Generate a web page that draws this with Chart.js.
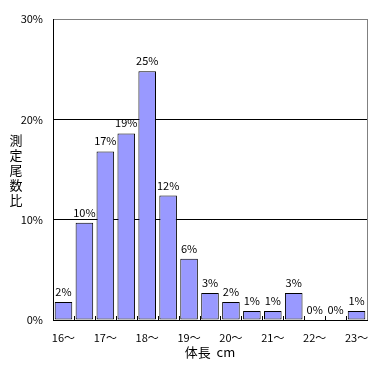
<!DOCTYPE html>
<html>
<head>
<meta charset="utf-8">
<script src="https://cdn.jsdelivr.net/npm/chart.js@4"></script>
<style>
    body { margin: 0; background: #fff; }
    #wrap { width: 372px; height: 365px; }
</style>
</head>
<body>
<div id="wrap"><canvas id="lengthChart" width="372" height="365"></canvas></div>
<script>
// 体長階級 (0.5cm刻み)
const CATEGORIES = [
    '16～', '16.5～', '17～', '17.5～', '18～', '18.5～', '19～', '19.5～',
    '20～', '20.5～', '21～', '21.5～', '22～', '22.5～', '23～'
];

// 測定尾数比 (%)
const RATIOS = [1.8, 9.7, 16.8, 18.6, 24.8, 12.4, 6.1, 2.7, 1.8, 0.9, 0.9, 2.7, 0, 0, 0.9];

// Y軸目盛
const Y_TICKS = [0, 10, 20, 30];

const Y_TITLE = '測定尾数比';
const X_TITLE = '体長  cm';

const FONT = '"Noto Sans CJK JP", "Noto Sans", sans-serif';

// 枠線・目盛・ラベル描画
const decorPlugin = {
    id: 'decor',
    afterDatasetsDraw(chart) {
        const ctx = chart.ctx;
        const area = chart.chartArea;
        ctx.save();

        // 右側の枠線 (灰色)
        ctx.strokeStyle = '#808080';
        ctx.lineWidth = 1;
        ctx.beginPath();
        ctx.moveTo(Math.round(area.right) + 0.5, area.top);
        ctx.lineTo(Math.round(area.right) + 0.5, area.bottom);
        ctx.stroke();

        // 内向きの目盛 (区間の境界)
        ctx.strokeStyle = '#000';
        const step = (area.right - area.left) / CATEGORIES.length;
        for (let i = 1; i < CATEGORIES.length; i++) {
            const x = Math.round(area.left + step * i) + 0.5;
            ctx.beginPath();
            ctx.moveTo(x, area.bottom - 4);
            ctx.lineTo(x, area.bottom);
            ctx.stroke();
        }

        // データラベル
        ctx.fillStyle = '#000';
        ctx.font = '11px ' + FONT;
        ctx.textAlign = 'center';
        ctx.textBaseline = 'alphabetic';
        const meta = chart.getDatasetMeta(0);
        meta.data.forEach((bar, i) => {
            ctx.fillText(Math.round(RATIOS[i]) + '%', bar.x, bar.y - 6);
        });

        // Y軸タイトル (縦書き)
        ctx.font = '13px ' + FONT;
        ctx.textBaseline = 'middle';
        const chars = Array.from(Y_TITLE);
        const midY = (area.top + area.bottom) / 2 + 1;
        const gap = 15;
        chars.forEach((c, i) => {
            ctx.fillText(c, 16, midY + (i - (chars.length - 1) / 2) * gap);
        });

        // X軸タイトル
        ctx.fillText(X_TITLE, (area.left + area.right) / 2, area.bottom + 32);

        ctx.restore();
    }
};

function initLengthChart() {
    const ctx = document.getElementById('lengthChart');

    const config = {
        type: 'bar',
        data: {
            labels: CATEGORIES,
            datasets: [{
                data: RATIOS,
                backgroundColor: '#9999FF',
                borderColor: '#000000',
                borderWidth: 1,
                borderSkipped: false,
                barPercentage: 0.84,
                categoryPercentage: 1.0
            }]
        },
        options: {
            responsive: false,
            devicePixelRatio: 1,
            animation: false,
            plugins: {
                legend: { display: false },
                tooltip: { enabled: false }
            },
            layout: {
                padding: { top: 19, right: 5, left: 0, bottom: 0 }
            },
            scales: {
                x: {
                    grid: { display: false },
                    border: { display: true, color: '#000', width: 1 },
                    ticks: {
                        color: '#000',
                        font: { size: 11, family: FONT },
                        padding: 3,
                        autoSkip: false,
                        maxRotation: 0,
                        minRotation: 0,
                        callback: function(value, index) {
                            return index % 2 === 0 ? CATEGORIES[index] : '';
                        }
                    },
                    afterFit: function(scale) { scale.height = 45; }
                },
                y: {
                    min: Y_TICKS[0],
                    max: Y_TICKS[Y_TICKS.length - 1],
                    afterBuildTicks: function(scale) {
                        scale.ticks = Y_TICKS.map(v => ({ value: v }));
                    },
                    grid: {
                        drawTicks: false,
                        color: function(c) {
                            return c.tick && c.tick.value === Y_TICKS[Y_TICKS.length - 1] ? '#808080' : '#000';
                        },
                        lineWidth: 1
                    },
                    border: { display: true, color: '#000', width: 1 },
                    ticks: {
                        color: '#000',
                        font: { size: 11, family: FONT },
                        padding: 10,
                        callback: function(value) { return value + '%'; }
                    },
                    afterFit: function(scale) { scale.width = 53; }
                }
            }
        },
        plugins: [decorPlugin]
    };

    new Chart(ctx, config);
}

initLengthChart();
</script>
</body>
</html>
